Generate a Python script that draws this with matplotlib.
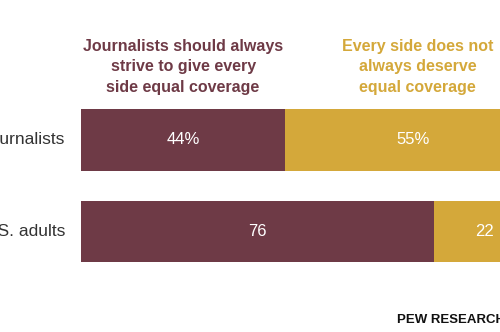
import matplotlib.pyplot as plt

# Survey results: share saying journalists should always give every side equal coverage
groups = ["Journalists", "U.S. adults"]
equal_coverage = [44, 76]
not_always = [55, 22]
value_labels_equal = ["44%", "76"]
value_labels_not = ["55%", "22"]
header_equal = "Journalists should always\nstrive to give every\nside equal coverage"
header_not = "Every side does not\nalways deserve\nequal coverage"
source = "PEW RESEARCH CENTER"

MAROON = "#6E3A46"
GOLD = "#D4A83A"

W, H, DPI = 500, 332, 100
fig = plt.figure(figsize=(W / DPI, H / DPI), dpi=DPI)
fig.patch.set_facecolor("white")

left_px = 81
px_per_pct = 4.64
ax = fig.add_axes([left_px / W, 0, 1 - left_px / W, 1])
ax.set_xlim(0, (W - left_px) / px_per_pct)

row_px = 91.5
top_px = 140
ax.set_ylim((H - top_px) / row_px, -top_px / row_px)
ax.axis("off")

ypos = list(range(len(groups)))
bar_h = 0.675
ax.barh(ypos, equal_coverage, height=bar_h, color=MAROON, linewidth=0)
ax.barh(ypos, not_always, left=equal_coverage, height=bar_h, color=GOLD, linewidth=0)

for y, a, b, la, lb in zip(ypos, equal_coverage, not_always, value_labels_equal, value_labels_not):
    ax.text(a / 2, y, la, ha="center", va="center", color="white",
            fontsize=12, family="Liberation Sans")
    ax.text(a + b / 2, y, lb, ha="center", va="center", color="white",
            fontsize=12, family="Liberation Sans")
    ax.text(-16 / px_per_pct, y, groups[y], ha="right", va="center",
            color="#333333", fontsize=12.5, family="Liberation Sans", clip_on=False)

head_y = (67 - top_px) / row_px
ax.text(equal_coverage[0] / 2, head_y, header_equal, ha="center", va="center",
        color=MAROON, fontsize=11.5, fontweight="bold", family="Liberation Sans",
        linespacing=1.42, multialignment="center")
ax.text(equal_coverage[0] + not_always[0] / 2 + 1, head_y, header_not, ha="center",
        va="center", color=GOLD, fontsize=11.5, fontweight="bold",
        family="Liberation Sans", linespacing=1.42, multialignment="center")

fig.text(397 / W, 1 - 320 / H, source, ha="left", va="center", color="#111111",
         fontsize=9.5, fontweight="bold", family="Liberation Sans")

fig.savefig("out.png", dpi=DPI)
